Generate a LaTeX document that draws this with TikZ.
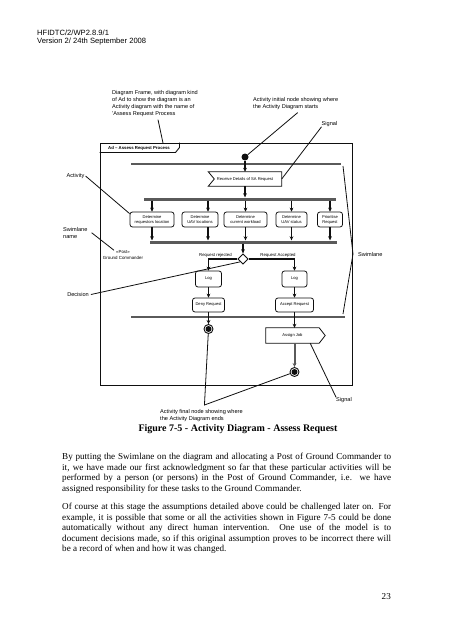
\documentclass[tikz,border=0pt]{standalone}
\usepackage{fontspec}
\setmainfont{Liberation Serif}
\newfontfamily\arialfont{Liberation Sans}
\usetikzlibrary{arrows.meta, positioning, shapes.geometric, calc}
\definecolor{ink}{RGB}{15,15,15}
\definecolor{lanegray}{RGB}{90,90,90}

\begin{document}
\begin{tikzpicture}[
    x=1pt, y=-1pt,
    every node/.style={inner sep=0pt},
    note/.style={font=\arialfont\fontsize{5.6}{7}\selectfont, align=left},
    notelink/.style={draw=ink, line width=0.8pt},
    act/.style={draw=ink, line width=0.8pt, rounded corners=2.5pt, font=\arialfont\fontsize{4.1}{5}\selectfont, align=center, minimum height=15pt},
    sigbox/.style={font=\arialfont\fontsize{4.1}{5}\selectfont, minimum height=14pt},
    sigline/.style={draw=ink, line width=0.8pt},
    bar/.style={fill=lanegray, minimum height=3pt},
    lane/.style={draw=lanegray, line width=2.2pt},
    flow/.style={draw=ink, line width=1.2pt, -{Stealth[length=4pt, width=3.8pt]}},
    guard/.style={font=\arialfont\fontsize{4.3}{5}\selectfont, above=1.4pt},
    final/.style={circle, draw=ink, line width=0.9pt, minimum size=9pt, path picture={\fill[ink] (path picture bounding box.center) circle (3pt);}},
    body/.style={anchor=north west, text width=329pt, align=justify, font=\fontsize{9.1}{10.5}\selectfont}
]
\useasboundingbox (0,0) rectangle (452,640);

% Page header
\node[font=\arialfont\fontsize{7.6}{8.7}\selectfont, align=left, anchor=north west] (head) at (37,29.3) {HFIDTC/2/WP2.8.9/1\\Version 2/ 24th September 2008};

% Diagram frame with its name tab
\node[draw=ink, line width=1pt, minimum width=252pt, minimum height=242pt] (frame) at (226,264) {};
\draw[ink, line width=0.9pt] (frame.north west) ++(80,0) -- ++(0,5) -- ++(-4,5) -- ++(-76,0);
\node[font=\arialfont\bfseries\fontsize{4.3}{5}\selectfont] (tab) at (139,148) {Ad \textendash\ Assess Request Process};
\coordinate (tabtop) at (163,143);

% Swimlane lines
\def\lanetopy{164}
\def\lanebaty{317}
\coordinate (lanetop) at (341,\lanetopy);
\coordinate (lanebot) at (345,\lanebaty);
\coordinate (laneleft) at (131,\lanetopy);
\coordinate (laneleftb) at (131,\lanebaty);
\draw[lane] (laneleft) -- (lanetop);
\draw[lane] (laneleftb) -- (lanebot);

% Start and receive signal
\node[circle, fill=ink, minimum size=7pt] (init) at (245,157) {};
\node[sigbox, minimum width=73pt] (recv) at (245,179) {Receive Details of SA Request};
\draw[sigline] (recv.north west) -- (recv.north east) -- (recv.south east) -- (recv.south west) -- ($(recv.west)+(6,0)$) -- cycle;
\draw[flow] (init.south) -- (recv.north);

% Fork, parallel activities, join
\def\acty{219.5}
\node[bar, minimum width=192pt] (fork) at (240,199) {};
\draw[flow] (recv.south) -- (recv.south |- fork.north);
\node[act, minimum width=44pt] (locreq) at (152,\acty) {Determine\\requestors location};
\node[act, minimum width=36pt] (locuav) at (200,\acty) {Determine\\UAV locations};
\node[act, minimum width=43pt] (workload) at (245.5,\acty) {Determine\\current workload};
\node[act, minimum width=31pt] (uavstat) at (291.5,\acty) {Determine\\UAV status};
\node[act, minimum width=25pt] (prio) at (330,\acty) {Prioritise\\Request};
\node[bar, minimum width=187pt] (join) at (243.5,242) {};
\foreach \a in {locreq, workload, uavstat, prio} {
    \draw[flow] (fork.south -| \a.north) -- (\a.north);
    \draw[flow] (\a.south) -- (\a.south |- join.north);
}
\coordinate (uavin) at ([xshift=8pt]locuav.north);
\coordinate (uavout) at ([xshift=8pt]locuav.south);
\draw[flow] (fork.south -| uavin) -- (uavin);
\draw[flow] (uavout) -- (join.north -| uavout);

% Decision and the two branches
\node[diamond, draw=ink, line width=0.9pt, minimum size=10.5pt, fill=white] (dec) at (243,259) {};
\draw[flow] (join.south -| dec.north) -- (dec.north);
\node[act, minimum width=26pt, minimum height=16pt] (logrej) at (208.5,279) {Log};
\node[act, minimum width=25pt, minimum height=16pt] (logacc) at (294.5,279) {Log};
\draw[flow] (dec.west) -| node[guard, pos=0.38] (rej) {Request rejected} (logrej.north);
\draw[flow] (dec.east) -| node[guard, pos=0.32] (acc) {Request Accepted} (logacc.north);
\node[act, minimum width=32pt, minimum height=14pt] (deny) at (208.5,305) {Deny Request};
\node[act, minimum width=38pt, minimum height=14pt] (accept) at (294.5,305) {Accept Request};
\draw[flow] (logrej.south) -- (deny.north);
\draw[flow] (logacc.south) -- (accept.north);

% Ends
\node[final] (fin1) at (208.5,329) {};
\draw[flow] (deny.south) -- (fin1.north);
\node[sigbox, minimum width=53pt, minimum height=15pt] (job) at (292.5,335.5) {Assign Job};
\draw[sigline] (job.north west) -- (job.north east) -- ($(job.east)+(6,0)$) -- (job.south east) -- (job.south west) -- cycle;
\draw[flow] (accept.south) -- (accept.south |- job.north);
\node[final] (fin2) at (294.5,372) {};
\draw[flow, draw=lanegray, line width=2pt] (job.south -| fin2) -- (fin2.north);

% Annotations
\node[note, anchor=north west] (notefr) at (112,90) {Diagram Frame, with diagram kind\\of Ad to show the diagram is an\\Activity diagram with the name of\\'Assess Request Process};
\draw[notelink] ([xshift=3pt, yshift=-3pt]notefr.south) -- (tabtop);
\node[note, anchor=north west] (noteinit) at (253,97) {Activity initial node showing where\\the Activity Diagram starts};
\draw[notelink] ([xshift=2pt, yshift=-3pt]noteinit.south) -- (init);
\node[note] (sigtop) at (329.5,124) {Signal};
\draw[notelink] (sigtop.south west) -- (recv.east);
\node[note] (actlbl) at (75.5,176) {Activity};
\draw[notelink] ([xshift=1pt]actlbl.east) -- ([yshift=-2pt]locreq.north west);
\node[note, anchor=north west] (swname) at (63,227) {Swimlane\\name};
\node[font=\arialfont\fontsize{4.4}{6}\selectfont, align=center] (post) at (123,255) {«Post»\\Ground Commander};
\draw[notelink] ([xshift=4pt]swname.east) -- ([xshift=-9pt]post.north);
\node[note, anchor=west] (swlbl) at (358,254) {Swimlane};
\draw[notelink] ([shift={(2pt,-2pt)}]lanetop) -- ([xshift=-5pt]swlbl.west) -- ([shift={(-2pt,3pt)}]lanebot);
\node[note] (declbl) at (78,294.5) {Decision};
\draw[notelink] ([xshift=2pt]declbl.east) -- (dec.south west);
\node[note] (sigbot) at (344,400) {Signal};
\draw[notelink] (sigbot.north west) -- ([xshift=-9pt]job.south east);
\node[note, anchor=north west] (notefin) at (160,409) {Activity final node showing where\\the Activity Diagram ends};
\coordinate (finjoin) at ([xshift=3pt, yshift=4pt]notefin.north);
\draw[notelink] (fin1) -- (finjoin) -- (fin2);

% Caption and text
\node[font=\bfseries\fontsize{10}{12}\selectfont] (caption) at (238,429) {Figure 7-5 - Activity Diagram - Assess Request};
\node[body] (para1) at (62,453) {By putting the Swimlane on the diagram and allocating a Post of Ground Commander to\linebreak it, we have made our first acknowledgment so far that these particular activities will be\linebreak performed by a person (or persons) in the Post of Ground Commander, i.e. we have\linebreak assigned responsibility for these tasks to the Ground Commander.};
\node[body] (para2) at (62,503) {Of course at this stage the assumptions detailed above could be challenged later on. For\linebreak example, it is possible that some or all the activities shown in Figure 7-5 could be done\linebreak automatically without any direct human intervention.\ \ One use of the model is to\linebreak document decisions made, so if this original assumption proves to be incorrect there will\linebreak be a record of when and how it was changed.};
\node[font=\fontsize{9.1}{10.5}\selectfont, anchor=east] (pagenum) at (391,597) {23};

\end{tikzpicture}
\end{document}
